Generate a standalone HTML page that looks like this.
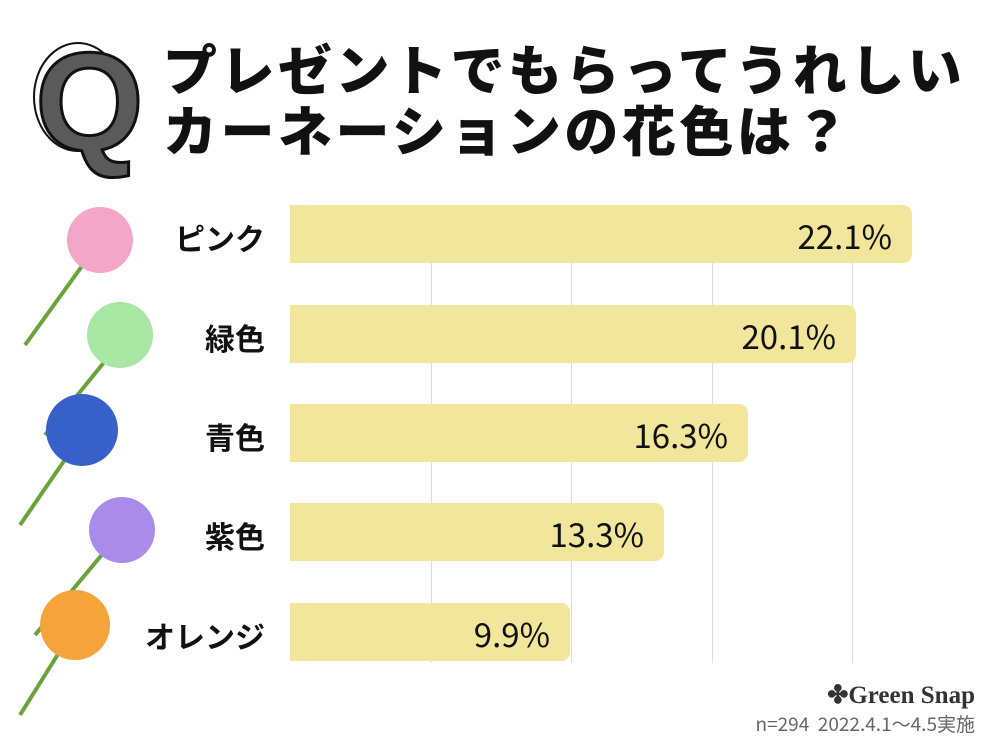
<!DOCTYPE html>
<html><head><meta charset="utf-8"><style>
body{margin:0;width:1000px;height:750px;background:#fff;position:relative;overflow:hidden;font-family:"Liberation Sans","Noto Sans CJK JP",sans-serif}
.t{position:absolute;left:163px;font-weight:900;font-size:54px;color:#111;white-space:nowrap;letter-spacing:3.5px;line-height:1}
.grid{position:absolute;top:263px;height:400px;width:1px;background:#ddd}
.bar{position:absolute;left:290px;height:58px;background:#f2e59c;border-radius:0 9px 9px 0}
.v{position:absolute;right:20px;top:6px;font-size:33px;color:#111;font-family:"Noto Sans CJK JP",sans-serif}
.l{position:absolute;right:735px;font-size:30px;font-weight:bold;color:#111;white-space:nowrap}
</style></head><body>
<svg style="position:absolute;left:0;top:0" width="160" height="180">
<ellipse cx="78" cy="97" rx="44" ry="54" fill="none" stroke="#111" stroke-width="2"/>
<text x="35" y="150" font-size="140" font-weight="900" fill="#5a5a5a" stroke="#111" stroke-width="3" font-family="Liberation Sans,sans-serif">Q</text>
</svg>
<div class="t" style="top:45px">プレゼントでもらってうれしい</div>
<div class="t" style="top:106px">カーネーションの花色は？</div>
<div class="grid" style="left:431px"></div><div class="grid" style="left:571px"></div><div class="grid" style="left:712px"></div><div class="grid" style="left:852px"></div>
<div class="bar" style="top:205px;width:622px"><span class="v">22.1%</span></div>
<div class="bar" style="top:305px;width:566px"><span class="v">20.1%</span></div>
<div class="bar" style="top:404px;width:458px"><span class="v">16.3%</span></div>
<div class="bar" style="top:503px;width:374px"><span class="v">13.3%</span></div>
<div class="bar" style="top:603px;width:280px"><span class="v">9.9%</span></div>
<div class="l" style="top:215px">ピンク</div>
<div class="l" style="top:315px">緑色</div>
<div class="l" style="top:414px">青色</div>
<div class="l" style="top:513px">紫色</div>
<div class="l" style="top:613px">オレンジ</div>
<svg style="position:absolute;left:0;top:195px" width="170" height="540">
<g stroke="#6aa33a" stroke-width="4" fill="none">
<path d="M90 60 L25 150"/><path d="M110 160 L45 240"/><path d="M75 250 L20 330"/><path d="M110 350 L35 440"/><path d="M70 440 L20 520"/>
</g>
<circle cx="100" cy="45" r="33" fill="#f3a6c8"/>
<circle cx="120" cy="140" r="33" fill="#a8e6a4"/>
<circle cx="82" cy="235" r="36" fill="#3760c9"/>
<circle cx="122" cy="335" r="33" fill="#a98bea"/>
<circle cx="75" cy="430" r="35" fill="#f4a43a"/>
</svg>
<div style="position:absolute;right:25px;top:680px;font-family:'Liberation Serif',serif;font-weight:bold;font-size:25px;color:#333">✤Green Snap</div>
<div style="position:absolute;right:25px;top:710px;font-size:19px;color:#666;font-family:'Noto Sans CJK JP',sans-serif">n=294&nbsp; 2022.4.1～4.5実施</div>
</body></html>
